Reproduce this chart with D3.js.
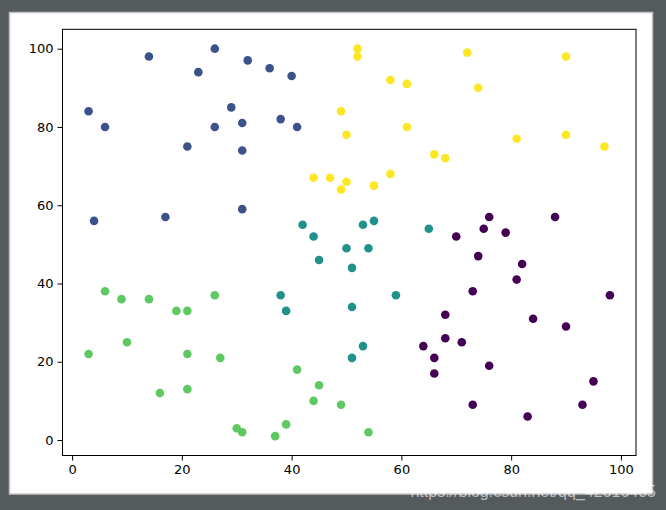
<!DOCTYPE html>
<html><head><meta charset="utf-8">
<script src="https://cdn.jsdelivr.net/npm/d3@7"></script>
<style>body{margin:0;background:#555a5d;}svg{display:block;}</style>
</head><body>
<script>
// cluster 0 (purple)
const c0x = [64,66,66,68,68,70,71,73,73,74,75,76,76,79,81,82,83,84,88,90,93,95,98];
const c0y = [24,21,17,32,26,52,25,38,9,47,54,57,19,53,41,45,6,31,57,29,9,15,37];
// cluster 1 (blue)
const c1x = [3,6,4,14,17,21,23,26,26,29,31,31,31,32,36,38,40,41];
const c1y = [84,80,56,98,57,75,94,100,80,85,81,74,59,97,95,82,93,80];
// cluster 2 (teal)
const c2x = [38,39,42,44,45,50,51,51,51,53,53,54,55,59,65];
const c2y = [37,33,55,52,46,49,44,34,21,55,24,49,56,37,54];
// cluster 3 (green)
const c3x = [3,6,9,10,14,16,19,21,21,21,26,27,30,31,37,39,41,44,45,49,54];
const c3y = [22,38,36,25,36,12,33,33,22,13,37,21,3,2,1,4,18,10,14,9,2];
// cluster 4 (yellow)
const c4x = [44,47,49,49,50,50,52,52,55,58,58,61,61,66,68,72,74,81,90,90,97];
const c4y = [67,67,84,64,78,66,100,98,65,92,68,91,80,73,72,99,90,77,98,78,75];
const clusterColors = ["#440154","#3b528b","#21918c","#5ec962","#fde725"];
const xTicks = [0,20,40,60,80,100];
const yTicks = [0,20,40,60,80,100];

const W = 666, H = 510;
const svg = d3.select("body").append("svg").attr("width", W).attr("height", H);
svg.append("rect").attr("width", W).attr("height", H).attr("fill", "#555a5d");
svg.append("rect").attr("x", 9.5).attr("y", 12.5).attr("width", 643).attr("height", 481.5)
  .attr("fill", "#ffffff").attr("stroke", "#c4c4c4").attr("stroke-width", 1.5);

const L = 62.5, R = 636, T = 29.3, B = 455.5;
const x = d3.scaleLinear().domain([-1.75, 102.75]).range([L, R]);
const y = d3.scaleLinear().domain([-3.95, 104.95]).range([B, T]);

const clusters = [[c0x,c0y],[c1x,c1y],[c2x,c2y],[c3x,c3y],[c4x,c4y]];
const pts = [];
clusters.forEach((c, k) => c[0].forEach((v, i) => pts.push({x: v, y: c[1][i], k})));

svg.append("g").selectAll("circle").data(pts).join("circle")
  .attr("cx", d => x(d.x)).attr("cy", d => y(d.y)).attr("r", 4.3)
  .attr("fill", d => clusterColors[d.k]);

const font = "DejaVu Sans, sans-serif";
const xa = svg.append("g").attr("transform", `translate(0,${B})`)
  .call(d3.axisBottom(x).tickValues(xTicks).tickSize(5).tickPadding(4).tickFormat(d3.format("d")));
const ya = svg.append("g").attr("transform", `translate(${L},0)`)
  .call(d3.axisLeft(y).tickValues(yTicks).tickSize(5).tickPadding(4).tickFormat(d3.format("d")));
[xa, ya].forEach(a => {
  a.select(".domain").remove();
  a.selectAll("line").attr("stroke", "#000").attr("stroke-width", 1);
  a.selectAll("text").attr("fill", "#000").style("font-family", font).style("font-size", "13px");
});
svg.append("rect").attr("x", L).attr("y", T).attr("width", R - L).attr("height", B - T)
  .attr("fill", "none").attr("stroke", "#000").attr("stroke-width", 1);

svg.append("text").attr("x", 656).attr("y", 497).attr("text-anchor", "end")
  .attr("fill", "#ffffff").attr("fill-opacity", 0.6)
  .style("font-family", "Liberation Sans, Arial, sans-serif").style("font-size", "16px")
  .text("https://blog.csdn.net/qq_42616405");
</script>
</body></html>
